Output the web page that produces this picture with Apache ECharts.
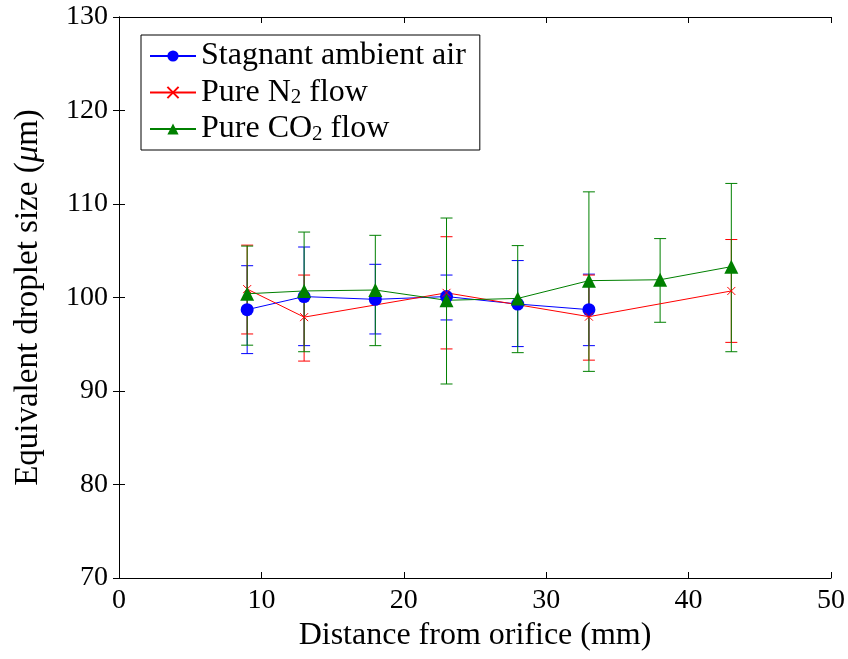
<!DOCTYPE html>
<html>
<head>
<meta charset="utf-8">
<script src="https://cdn.jsdelivr.net/npm/echarts@6/dist/echarts.min.js"></script>
<style>
  html, body { margin: 0; padding: 0; background: #fff; }
  #chart { width: 848px; height: 659px; }
</style>
</head>
<body>
<div id="chart"></div>
<script>
// distance from orifice (mm) and droplet size (um) with error bar ends
let xAir = [9, 13, 18, 23, 28, 33];
let yAir = [98.7, 100.1, 99.8, 100.1, 99.3, 98.7];
let airLo = [94.0, 94.85, 96.1, 97.6, 94.75, 94.85];
let airHi = [103.4, 105.4, 103.55, 102.4, 103.95, 102.5];

let xN2 = [9, 13, 23, 33, 43];
let yN2 = [100.9, 97.9, 100.5, 97.95, 100.7];
let n2Lo = [96.1, 93.2, 94.5, 93.3, 95.2];
let n2Hi = [105.6, 102.4, 106.5, 102.4, 106.2];

let xCO2 = [9, 13, 18, 23, 28, 33, 38, 43];
let yCO2 = [100.4, 100.7, 100.8, 99.7, 99.9, 101.8, 101.9, 103.3];
let co2Lo = [94.9, 94.2, 94.85, 90.75, 94.1, 92.1, 97.35, 94.2];
let co2Hi = [105.5, 107.0, 106.65, 108.5, 105.55, 111.3, 106.3, 112.2];

let seriesNames = ['Stagnant ambient air', 'Pure N2 flow', 'Pure CO2 flow'];

let font = 'Liberation Serif';

function pairs(xs, ys) {
    return xs.map(function (x, i) { return [x, ys[i]]; });
}

function bars(xs, lo, hi) {
    return xs.map(function (x, i) { return [x, lo[i], hi[i]]; });
}

function errorBars(data, color) {
    return {
        type: 'custom',
        data: data,
        encode: { x: 0, y: [1, 2] },
        z: 3,
        silent: true,
        renderItem: function (params, api) {
            let x = api.value(0);
            let lo = api.coord([x, api.value(1)]);
            let hi = api.coord([x, api.value(2)]);
            let w = 6;
            let st = { stroke: color, lineWidth: 1 };
            return {
                type: 'group',
                children: [
                    { type: 'line', shape: { x1: lo[0], y1: lo[1], x2: hi[0], y2: hi[1] }, style: st },
                    { type: 'line', shape: { x1: lo[0] - w, y1: lo[1], x2: lo[0] + w, y2: lo[1] }, style: st },
                    { type: 'line', shape: { x1: hi[0] - w, y1: hi[1], x2: hi[0] + w, y2: hi[1] }, style: st }
                ]
            };
        }
    };
}

let tickStyle = { show: true, inside: true, length: 6, lineStyle: { color: '#000', width: 1 } };
let lineAxis = { show: true, lineStyle: { color: '#000', width: 1 } };

let option = {
    animation: false,
    backgroundColor: '#fff',
    textStyle: { fontFamily: font },
    grid: { left: 119, right: 16, top: 17, bottom: 81 },
    legend: {
        data: seriesNames,
        left: 141,
        top: 35,
        orient: 'vertical',
        backgroundColor: '#fff',
        borderColor: '#000',
        borderWidth: 1,
        borderRadius: 0,
        padding: [5, 14, 5, 8],
        itemGap: 3,
        itemWidth: 46,
        itemHeight: 14,
        formatter: function (name) {
            if (name === 'Pure N2 flow') return 'Pure N{sub|2} flow';
            if (name === 'Pure CO2 flow') return 'Pure CO{sub|2} flow';
            return name;
        },
        textStyle: {
            fontFamily: font,
            fontSize: 32,
            lineHeight: 31,
            color: '#000',
            rich: {
                sub: { fontFamily: font, fontSize: 21, lineHeight: 31, verticalAlign: 'bottom', padding: [12, 0, 0, 0], color: '#000' }
            }
        }
    },
    xAxis: [
        {
            type: 'value', min: 0, max: 50, interval: 10,
            name: 'Distance from orifice (mm)',
            nameLocation: 'middle', nameGap: 40,
            nameTextStyle: { fontFamily: font, fontSize: 32, color: '#000' },
            axisLine: lineAxis, axisTick: tickStyle,
            axisLabel: { fontFamily: font, fontSize: 28, color: '#000', margin: 9 },
            splitLine: { show: false }
        },
        {
            type: 'value', min: 0, max: 50, interval: 10, position: 'top',
            axisLine: lineAxis, axisTick: tickStyle,
            axisLabel: { show: false }, splitLine: { show: false }
        }
    ],
    yAxis: [
        {
            type: 'value', min: 70, max: 130, interval: 10,
            name: 'Equivalent droplet size ({i|μ}m)',
            nameLocation: 'middle', nameGap: 74,
            nameTextStyle: {
                fontFamily: font, fontSize: 33, color: '#000',
                rich: { i: { fontFamily: font, fontSize: 33, fontStyle: 'italic', color: '#000' } }
            },
            axisLine: lineAxis, axisTick: tickStyle,
            axisLabel: { fontFamily: font, fontSize: 28, color: '#000', margin: 11 },
            splitLine: { show: false }
        },
        {
            type: 'value', min: 70, max: 130, interval: 10, position: 'right',
            axisLine: lineAxis, axisTick: tickStyle,
            axisLabel: { show: false }, splitLine: { show: false }
        }
    ],
    series: [
        errorBars(bars(xAir, airLo, airHi), '#0000ff'),
        {
            name: seriesNames[0], type: 'line', data: pairs(xAir, yAir), z: 4,
            symbol: 'circle', symbolSize: 13,
            lineStyle: { color: '#0000ff', width: 1 },
            itemStyle: { color: '#0000ff' }
        },
        errorBars(bars(xN2, n2Lo, n2Hi), '#ff0000'),
        {
            name: seriesNames[1], type: 'line', data: pairs(xN2, yN2), z: 4,
            symbol: 'path://M0,0L10,10M10,0L0,10', symbolSize: 8,
            lineStyle: { color: '#ff0000', width: 1 },
            itemStyle: { color: 'none', borderColor: '#ff0000', borderWidth: 1 }
        },
        errorBars(bars(xCO2, co2Lo, co2Hi), '#008000'),
        {
            name: seriesNames[2], type: 'line', data: pairs(xCO2, yCO2), z: 4,
            symbol: 'triangle', symbolSize: 14,
            lineStyle: { color: '#008000', width: 1 },
            itemStyle: { color: '#008000' }
        }
    ]
};

let chart = echarts.init(document.getElementById('chart'));
chart.setOption(option);
</script>
</body>
</html>
